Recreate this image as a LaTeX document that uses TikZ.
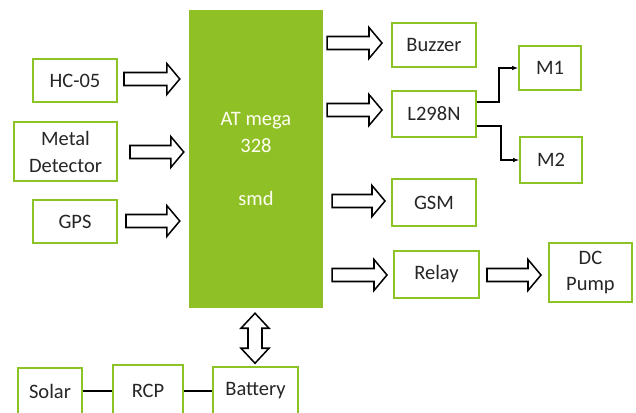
\documentclass[tikz,border=0pt]{standalone}
\usepackage{fontspec}
\setmainfont{Carlito}
\usetikzlibrary{calc,arrows.meta}
\definecolor{chipgreen}{RGB}{143,192,38}
\definecolor{boxgreen}{RGB}{140,196,40}
\tikzset{
  box/.style={draw=boxgreen, line width=1.7pt, fill=white, align=center, inner sep=0pt, text=black!85},
  chip/.style={fill=chipgreen, draw=none, align=center, inner sep=0pt, text=white!95!yellow},
  barrowstyle/.style={draw=black, line width=1.3pt, fill=white, line join=miter},
  thin link/.style={draw=black, line width=0.9pt, -{Latex[length=5pt,width=4pt]}},
  plain link/.style={draw=black, line width=1.3pt},
}
\newcommand\barrow[2]{%
  \draw[barrowstyle] let \p1=#1, \p2=#2 in
    (\x1,{\y1+0.195cm}) -- ({\x2-0.39cm},{\y1+0.195cm}) -- ({\x2-0.39cm},{\y1+0.465cm})
    -- (\x2,\y1) -- ({\x2-0.39cm},{\y1-0.465cm}) -- ({\x2-0.39cm},{\y1-0.195cm})
    -- (\x1,{\y1-0.195cm}) -- cycle;}
\begin{document}
\begin{tikzpicture}[x=0.03cm,y=-0.03cm,font=\fontsize{17.5}{23}\selectfont]
\useasboundingbox (0,0) rectangle (636,412);
\clip (0,0) rectangle (636,412);
\fill[white] (0,0) rectangle (636,412);
% main chip
\node[chip, minimum width=134*0.03cm, minimum height=298*0.03cm] (mcu) at (256,159) {AT mega\\328\\[23pt]smd};
% inputs
\node[box, minimum width=84*0.03cm, minimum height=43*0.03cm] (hc) at (75,80.5) {HC-05};
\node[box, minimum width=103*0.03cm, minimum height=59*0.03cm] (metal) at (65.5,151.5) {Metal\\Detector};
\node[box, minimum width=84*0.03cm, minimum height=43*0.03cm] (gps) at (75,221.5) {GPS};
% outputs
\node[box, minimum width=84*0.03cm, minimum height=44*0.03cm] (buzzer) at (434,45) {Buzzer};
\node[box, minimum width=84*0.03cm, minimum height=46*0.03cm] (l298) at (434,114) {L298N};
\node[box, minimum width=62*0.03cm, minimum height=44*0.03cm] (m1) at (550,68) {M1};
\node[box, minimum width=62*0.03cm, minimum height=46*0.03cm] (m2) at (551,160) {M2};
\node[box, minimum width=84*0.03cm, minimum height=47*0.03cm] (gsm) at (434,202.5) {GSM};
\node[box, minimum width=85*0.03cm, minimum height=47*0.03cm] (relay) at (436.5,274.5) {Relay};
\node[box, minimum width=83*0.03cm, minimum height=59*0.03cm] (pump) at (590.5,272.5) {DC\\Pump};
% power
\node[box, minimum width=64*0.03cm, minimum height=46*0.03cm] (solar) at (50,391) {Solar};
\node[box, minimum width=70*0.03cm, minimum height=52*0.03cm] (rcp) at (148,391) {RCP};
\node[box, minimum width=85*0.03cm, minimum height=48*0.03cm] (batt) at (255.5,391) {Battery};
% block arrows
\barrow{($(hc.east)+(6,-1.5)$)}{($(mcu.west |- hc.east)+(-9,-1.5)$)}
\barrow{($(metal.east)+(12,0.5)$)}{($(mcu.west |- metal.east)+(-5,0.5)$)}
\barrow{($(gps.east)+(8,-0.5)$)}{($(mcu.west |- gps.east)+(-9,-0.5)$)}
\barrow{($(mcu.east |- buzzer.west)+(4,-2)$)}{($(buzzer.west)+(-9,-2)$)}
\barrow{($(mcu.east |- l298.west)+(4,-4)$)}{($(l298.west)+(-9,-4)$)}
\barrow{($(mcu.east |- gsm.west)+(9,-1.5)$)}{($(gsm.west)+(-6,-1.5)$)}
\barrow{($(mcu.east |- relay.west)+(9,0.5)$)}{($(relay.west)+(-6,0.5)$)}
\barrow{($(relay.east)+(7,0.5)$)}{($(pump.west)+(-7,2.5)$)}
% double arrow chip <-> battery
\draw[barrowstyle] ($(mcu.south)+(-1,5)$) -- ++(14,15) -- ++(-7,0) -- ++(0,20) -- ++(7,0)
  -- ++(-14,15) -- ++(-14,-15) -- ++(7,0) -- ++(0,-20) -- ++(-7,0) -- cycle;
% thin links
\draw[thin link] ($(l298.east)+(0,-12)$) -- ++(22,0) |- (m1.west);
\draw[thin link] ($(l298.east)+(0,12)$) -- ++(24,0) |- (m2.west);
\draw[plain link] (solar.east) -- (rcp.west);
\draw[plain link] (rcp.east) -- (batt.west);
\end{tikzpicture}
\end{document}
